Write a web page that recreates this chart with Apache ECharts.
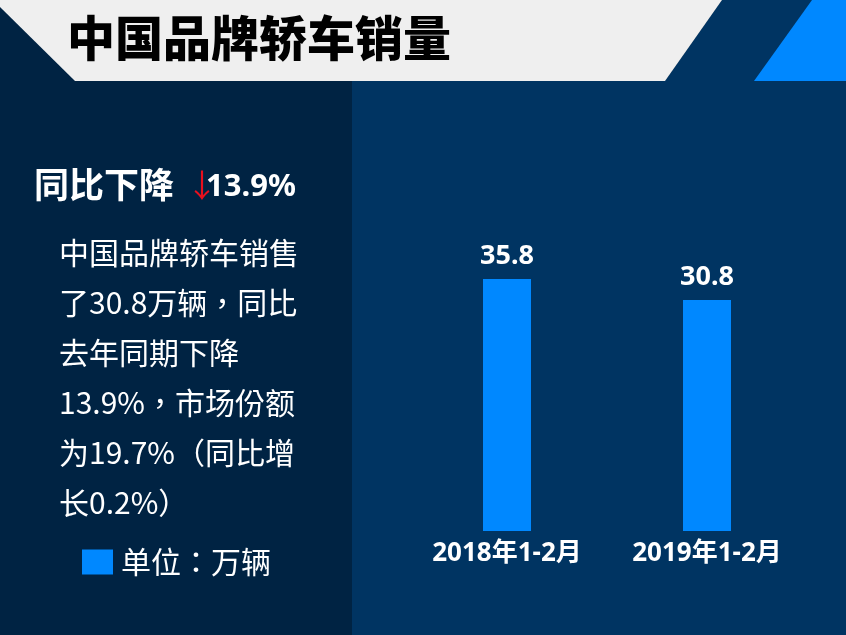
<!DOCTYPE html>
<html>
<head>
<meta charset="utf-8">
<style>
  html, body { margin: 0; padding: 0; background: #002343; }
  #chart { width: 846px; height: 635px; }
</style>
<script src="https://cdn.jsdelivr.net/npm/echarts@6/dist/echarts.min.js"></script>
</head>
<body>
<div id="chart"></div>
<script>
// ---- data ----
const categories = ['2018年1-2月', '2019年1-2月'];
const salesValues = [35.8, 30.8];           // 万辆
const seriesName = '单位：万辆';
const titleText = '中国品牌轿车销量';
const headlineText = '同比下降';
const headlineChange = '13.9%';
const bodyLines = [
  '中国品牌轿车销售',
  '了30.8万辆，同比',
  '去年同期下降',
  '13.9%，市场份额',
  '为19.7%（同比增',
  '长0.2%）'
];
// value axis range (baseline of the bars sits at the axis minimum)
const AXIS_MIN = -24.2;
const AXIS_MAX = 80;

const CJK = '"Noto Sans CJK SC", "Noto Sans", sans-serif';
const CJKTC = '"Noto Sans CJK TC", "Noto Sans CJK SC", sans-serif';
const LATIN = '"Noto Sans", "Noto Sans CJK SC", sans-serif';

const chart = echarts.init(document.getElementById('chart'));

chart.setOption({
  backgroundColor: '#002343',
  animation: false,
  title: {
    text: titleText,
    left: 67,
    top: 14,
    padding: 0,
    textStyle: { color: '#000', fontSize: 48, fontWeight: 900, fontFamily: CJK }
  },
  legend: {
    left: 82,
    top: 547,
    padding: 0,
    itemWidth: 31,
    itemHeight: 25,
    data: [{ name: seriesName, icon: 'rect', itemStyle: { color: '#0088ff' } }],
    textStyle: { color: '#fff', fontSize: 30, fontFamily: CJKTC, padding: [0, 0, 0, 3] }
  },
  graphic: [
    // right panel
    { type: 'rect', z: -10, shape: { x: 352, y: 80, width: 494, height: 555 }, style: { fill: '#003462' } },
    // top band right part
    { type: 'polygon', z: -9, shape: { points: [[722, 0], [846, 0], [846, 81], [665, 81]] }, style: { fill: '#003462' } },
    // light grey title band
    { type: 'polygon', z: -8, shape: { points: [[0, 0], [722, 0], [665, 81], [75, 81], [0, 7]] }, style: { fill: '#efefef' } },
    // bright blue corner
    { type: 'polygon', z: -8, shape: { points: [[812, 0], [846, 0], [846, 81], [754, 81]] }, style: { fill: '#0088ff' } },
    // headline
    { type: 'text', z: 5, x: 34, y: 185, style: { text: headlineText, fill: '#fff', font: 'bold 35px ' + CJK, verticalAlign: 'middle' } },
    { type: 'text', z: 5, x: 186, y: 185, style: { text: '↓', fill: '#e8101e', font: '32px ' + CJK, verticalAlign: 'middle' } },
    { type: 'text', z: 5, x: 206, y: 187, style: { text: headlineChange, fill: '#fff', font: 'bold 31px ' + LATIN, verticalAlign: 'middle' } },
    // body paragraph
    { type: 'text', z: 5, x: 59, y: 228, style: { text: bodyLines.join('\n'), fill: '#fff', font: '30px ' + CJKTC, lineHeight: 50, verticalAlign: 'top' } }
  ],
  grid: { left: 407, right: 39, top: 93.36, bottom: 104, containLabel: false },
  xAxis: {
    type: 'category',
    data: categories,
    axisLine: { show: false },
    axisTick: { show: false },
    axisLabel: { color: '#fff', fontSize: 26, fontWeight: 'bold', fontFamily: LATIN, margin: 10 }
  },
  yAxis: {
    type: 'value',
    min: AXIS_MIN,
    max: AXIS_MAX,
    show: false,
    splitLine: { show: false }
  },
  series: [{
    type: 'custom',
    name: seriesName,
    itemStyle: { color: '#0088ff' },
    data: salesValues.map((v, i) => [i, v]),
    renderItem: function (params, api) {
      const idx = api.value(0);
      const v = api.value(1);
      const top = api.coord([idx, v]);
      const base = api.coord([idx, AXIS_MIN]);
      const w = api.size([1, 0])[0] * 0.24;
      return {
        type: 'group',
        children: [
          { type: 'rect', shape: { x: top[0] - w / 2, y: top[1], width: w, height: base[1] - top[1] }, style: { fill: '#0088ff' } },
          { type: 'text', x: top[0], y: top[1] - 23, style: { text: String(v), fill: '#fff', font: 'bold 27px ' + LATIN, align: 'center', verticalAlign: 'middle' } }
        ]
      };
    }
  }]
});
</script>
</body>
</html>
